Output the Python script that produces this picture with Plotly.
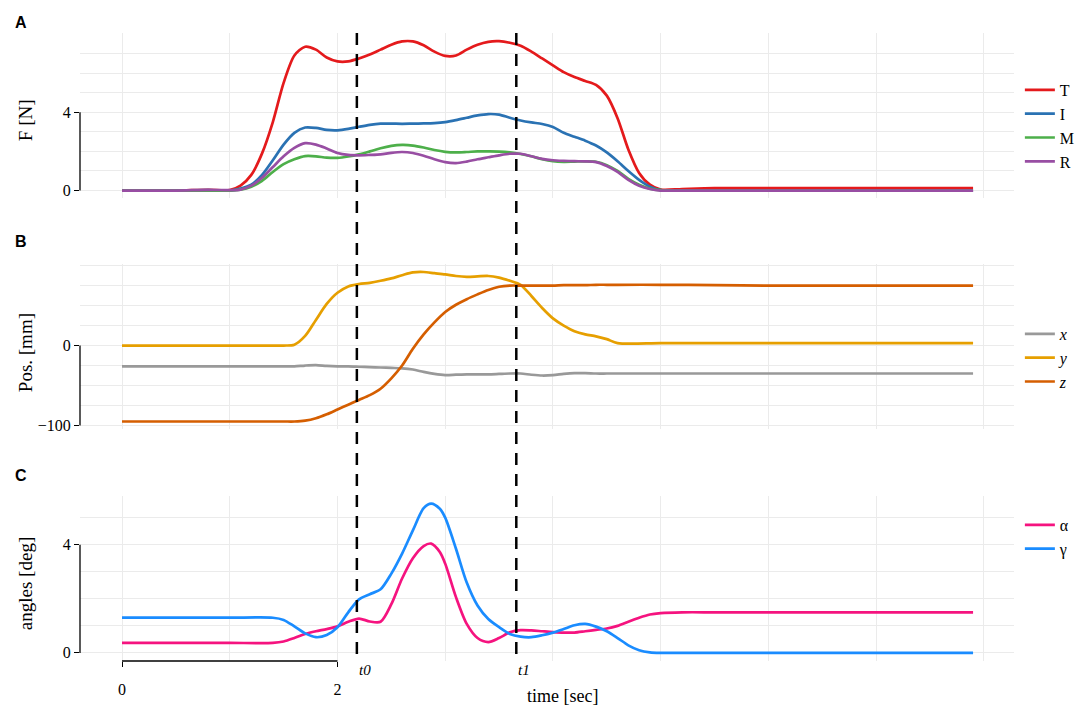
import plotly.graph_objects as go
from plotly.subplots import make_subplots

# ---- A: finger forces [N] ----
t_force = [0, 0.5, 0.8, 1.0, 1.1, 1.2, 1.3, 1.4, 1.5, 1.6, 1.7, 1.8, 1.9, 2.0,
           2.1, 2.2, 2.3, 2.4, 2.5, 2.6, 2.7, 2.8, 2.9, 3.0, 3.1, 3.2, 3.3, 3.4,
           3.5, 3.6, 3.7, 3.8, 3.9, 4.0, 4.1, 4.2, 4.3, 4.4, 4.5, 4.6, 4.7, 4.8,
           4.9, 5.0, 5.2, 5.5, 6.0, 7.0, 7.9]
force_T = [0, 0, 0.04, 0.02, 0.25, 0.8, 1.9, 3.5, 5.5, 6.9, 7.35, 7.2, 6.8, 6.6,
           6.6, 6.75, 6.95, 7.2, 7.45, 7.62, 7.62, 7.42, 7.1, 6.88, 6.9, 7.2, 7.45, 7.6,
           7.63, 7.55, 7.4, 7.1, 6.75, 6.4, 6.05, 5.8, 5.6, 5.4, 4.85, 3.7, 2.1, 0.9,
           0.3, 0.05, 0.08, 0.12, 0.12, 0.12, 0.12]
force_I = [0, 0, 0.02, 0, 0.1, 0.3, 0.8, 1.55, 2.35, 2.95, 3.22, 3.2, 3.1, 3.08,
           3.15, 3.26, 3.36, 3.42, 3.42, 3.41, 3.42, 3.43, 3.45, 3.5, 3.6, 3.72, 3.84, 3.91,
           3.88, 3.72, 3.58, 3.48, 3.4, 3.25, 2.95, 2.75, 2.55, 2.3, 1.95, 1.5, 1.0, 0.55,
           0.2, 0.02, 0, 0, 0, 0, 0]
force_M = [0, 0, 0, 0, 0.05, 0.2, 0.5, 0.95, 1.35, 1.6, 1.76, 1.75, 1.68, 1.67,
           1.74, 1.85, 2.0, 2.16, 2.28, 2.33, 2.3, 2.2, 2.07, 1.98, 1.95, 1.97, 2.0, 2.0,
           1.99, 1.95, 1.87, 1.75, 1.6, 1.5, 1.47, 1.48, 1.49, 1.47, 1.3, 1.0, 0.6, 0.3,
           0.1, 0.02, 0, 0, 0, 0, 0]
force_R = [0, 0, 0.04, 0.02, 0.05, 0.25, 0.65, 1.2, 1.75, 2.18, 2.42, 2.35, 2.15, 1.92,
           1.82, 1.8, 1.82, 1.85, 1.93, 1.97, 1.92, 1.78, 1.6, 1.45, 1.4, 1.48, 1.6, 1.7,
           1.8, 1.88, 1.88, 1.75, 1.62, 1.55, 1.52, 1.5, 1.49, 1.45, 1.25, 0.95, 0.55, 0.25,
           0.08, 0, 0, 0, 0, 0, 0]

# ---- B: position [mm] ----
t_pos = [0, 0.5, 1.0, 1.5, 1.6, 1.7, 1.8, 1.9, 2.0, 2.1, 2.2, 2.3, 2.4, 2.5,
         2.6, 2.7, 2.8, 2.9, 3.0, 3.1, 3.2, 3.3, 3.4, 3.5, 3.6, 3.7, 3.8, 3.9,
         4.0, 4.1, 4.2, 4.3, 4.4, 4.5, 4.6, 5.0, 5.5, 6.0, 6.5, 7.0, 7.5, 7.9]
pos_x = [-26, -26, -26, -26, -26, -25, -24.5, -25.5, -26, -26, -26.5, -27, -27.5, -28,
         -28.5, -30, -33, -35.5, -37, -36.5, -36, -36, -36, -35.5, -35, -35, -36.5, -37.5,
         -37, -35.5, -34.5, -34.5, -35, -35, -35, -35, -35, -35, -35, -35, -35, -35]
pos_y = [0, 0, 0, 0, 1, 12, 32, 52, 66, 74, 77, 78.5, 81, 84,
         88, 91.5, 92, 90.5, 89, 87, 86, 86.5, 87, 85, 81, 76, 62, 47,
         34, 25, 18, 14, 11.5, 8, 3, 3, 3, 3, 3, 3, 3, 3]
pos_z = [-95, -95, -95, -95, -95, -94, -91, -86, -80, -74, -68, -62, -54, -41,
         -25, -4, 14, 29, 42, 51, 58, 64, 69.5, 73.5, 75, 75, 75, 75,
         75, 75.5, 75.5, 75.5, 76, 76, 76, 76, 75.5, 75, 75, 75, 75, 75]

# ---- C: angles [deg] ----
t_ang = [0, 0.5, 1.0, 1.4, 1.5, 1.6, 1.7, 1.8, 1.9, 2.0, 2.1, 2.2, 2.3, 2.4,
         2.5, 2.6, 2.7, 2.8, 2.87, 2.95, 3.0, 3.1, 3.2, 3.3, 3.4, 3.5, 3.6, 3.7,
         3.8, 3.9, 4.0, 4.1, 4.2, 4.3, 4.4, 4.5, 4.6, 4.7, 4.8, 4.9, 5.0, 5.2,
         5.5, 6.0, 7.0, 7.9]
ang_alpha = [0.37, 0.37, 0.37, 0.37, 0.42, 0.55, 0.7, 0.8, 0.88, 0.98, 1.15, 1.27, 1.16, 1.15,
             1.8, 2.75, 3.5, 3.95, 4.04, 3.73, 3.3, 2.06, 1.07, 0.55, 0.4, 0.55, 0.76, 0.84,
             0.83, 0.8, 0.77, 0.75, 0.75, 0.8, 0.85, 0.9, 1.0, 1.15, 1.3, 1.42, 1.47, 1.5,
             1.5, 1.5, 1.5, 1.5]
ang_gamma = [1.3, 1.3, 1.3, 1.3, 1.22, 0.98, 0.72, 0.58, 0.66, 0.95, 1.5, 1.98, 2.17, 2.35,
             2.93, 3.67, 4.53, 5.35, 5.52, 5.33, 5.0, 3.85, 2.6, 1.75, 1.25, 0.95, 0.7, 0.6,
             0.58, 0.65, 0.75, 0.88, 1.02, 1.07, 0.97, 0.8, 0.55, 0.28, 0.1, 0.02, 0, 0,
             0, 0, 0, 0]

# events (dashed lines)
event_times = [2.18, 3.66]
event_names = ["t0", "t1"]

# labelled breaks / grid breaks
time_ticks = [0, 2]
time_grid = list(range(0, 9))
force_ticks = [0, 4]
force_grid = list(range(0, 9))
pos_ticks = [-100, 0]
pos_grid = list(range(-100, 101, 25))
ang_ticks = [0, 4]
ang_grid = list(range(0, 6))

SERIF = "Liberation Serif"
SANS = "Liberation Sans"
GRID = "#ebebeb"

W, H = 1084, 705
ML, MR, MT, MB = 72, 58, 25, 52


def px_x(px):
    return (px - ML) / (W - ML - MR)


def px_y(py):
    return (H - MB - py) / (H - MT - MB)


fig = make_subplots(rows=3, cols=1)


def add_line(t, v, name, color, row, legend):
    fig.add_trace(go.Scatter(x=t, y=v, name=name, mode="lines", legend=legend,
                             line=dict(color=color, width=2.7, shape="spline", smoothing=0.8)),
                  row=row, col=1)


add_line(t_force, force_T, "T", "#E41A1C", 1, "legend")
add_line(t_force, force_I, "I", "#2A72B3", 1, "legend")
add_line(t_force, force_M, "M", "#4DAF4A", 1, "legend")
add_line(t_force, force_R, "R", "#984EA3", 1, "legend")

add_line(t_pos, pos_x, "<i>x</i>", "#999999", 2, "legend2")
add_line(t_pos, pos_y, "<i>y</i>", "#E69F00", 2, "legend2")
add_line(t_pos, pos_z, "<i>z</i>", "#D55E00", 2, "legend2")

add_line(t_ang, ang_alpha, "α", "#F5137F", 3, "legend3")
add_line(t_ang, ang_gamma, "γ", "#1A8CFF", 3, "legend3")

tickfont = dict(family=SERIF, size=16, color="black")

# x axes
for r in (1, 2, 3):
    fig.update_xaxes(row=r, col=1, range=[-0.39, 8.28], tickvals=time_ticks,
                     showgrid=True, gridcolor=GRID, gridwidth=1, zeroline=False, showline=False,
                     minor=dict(tickvals=time_grid, showgrid=True, gridcolor=GRID, gridwidth=1, ticks=""),
                     showticklabels=(r == 3), ticks="outside" if r == 3 else "",
                     ticklen=5, tickwidth=1.3, tickcolor="black", tickfont=tickfont,
                     ticklabelstandoff=9)

# y axes
y_specs = [
    (1, force_ticks, force_grid, [-0.38, 8.05], [px_y(190), 1.0]),
    (2, pos_ticks, pos_grid, [-104.4, 102], [px_y(421), px_y(256)]),
    (3, ang_ticks, ang_grid, [-0.3, 5.8], [0.0, px_y(488)]),
]
for r, ticks, grid, rng, dom in y_specs:
    fig.update_yaxes(row=r, col=1, range=rng, domain=dom, tickvals=ticks,
                     showgrid=True, gridcolor=GRID, gridwidth=1, zeroline=False, showline=False,
                     minor=dict(tickvals=grid, showgrid=True, gridcolor=GRID, gridwidth=1, ticks=""),
                     ticks="outside", ticklen=5, tickwidth=1.3, tickcolor="black", tickfont=tickfont)
    # range-frame axis line between first and last labelled break
    sfx = "" if r == 1 else str(r)
    fig.add_shape(type="line", xref=f"x{sfx} domain", yref=f"y{sfx}", x0=0, x1=0,
                  y0=min(ticks), y1=max(ticks), line=dict(color="black", width=1.3))

fig.add_shape(type="line", xref="x3", yref="y3 domain", x0=min(time_ticks), x1=max(time_ticks),
              y0=0, y1=0, line=dict(color="black", width=1.3))

# dashed event lines across all panels
for ev, nm in zip(event_times, event_names):
    fig.add_shape(type="line", xref="x3", yref="paper", x0=ev, x1=ev, y0=px_y(646), y1=1.0,
                  line=dict(color="black", width=2.5, dash="12px,9px"))
    fig.add_annotation(x=ev, xref="x3", y=px_y(662), yref="paper", text=f"<i>{nm}</i>",
                       showarrow=False, xanchor="left", yanchor="middle",
                       font=dict(family=SERIF, size=15, color="black"))

# axis titles
for txt, cy in [("F [N]", 112), ("Pos. [mm]", 345), ("angles [deg]", 576)]:
    fig.add_annotation(x=px_x(16), y=px_y(cy), xref="paper", yref="paper", text=txt,
                       textangle=-90, showarrow=False, xanchor="center", yanchor="middle",
                       font=dict(family=SERIF, size=19, color="black"))
fig.add_annotation(x=px_x(565), y=px_y(688), xref="paper", yref="paper", text="time [sec]",
                   showarrow=False, xanchor="center", yanchor="middle",
                   font=dict(family=SERIF, size=18, color="black"))

# panel tags
for tag, cy in [("A", 14), ("B", 233), ("C", 467)]:
    fig.add_annotation(x=px_x(4), y=px_y(cy), xref="paper", yref="paper", text=f"<b>{tag}</b>",
                       showarrow=False, xanchor="left", yanchor="middle",
                       font=dict(family=SANS, size=16, color="black"))

leg = dict(xanchor="left", yanchor="middle", bgcolor="rgba(0,0,0,0)", itemwidth=30,
           tracegroupgap=0, font=dict(family=SERIF, size=16, color="black"))
fig.update_layout(
    width=W, height=H,
    margin=dict(l=ML, r=MR, t=MT, b=MB),
    plot_bgcolor="white", paper_bgcolor="white",
    showlegend=True,
    legend=dict(leg, x=px_x(1032), y=px_y(118)),
    legend2=dict(leg, x=px_x(1032), y=px_y(350)),
    legend3=dict(leg, x=px_x(1032), y=px_y(529)),
)

fig.write_html("out.html")
